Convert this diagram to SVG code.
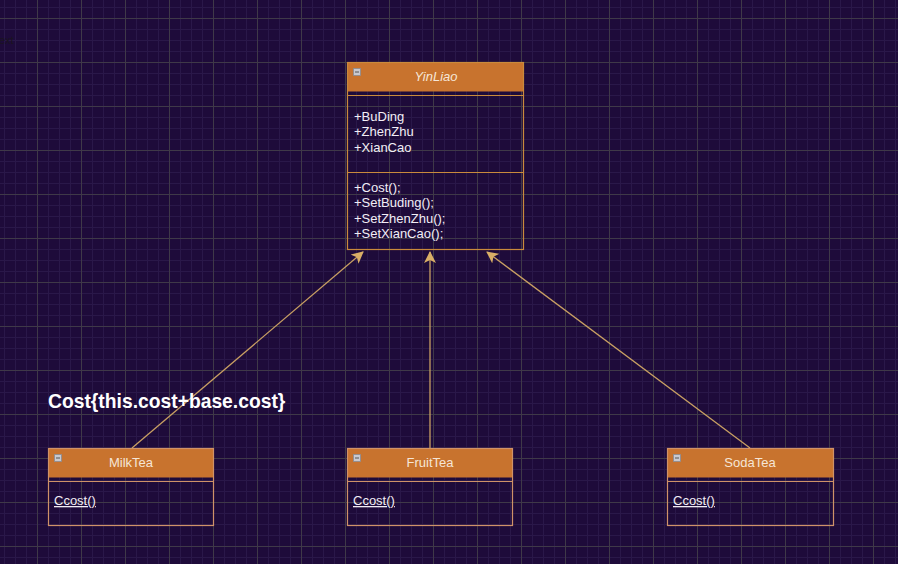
<svg xmlns="http://www.w3.org/2000/svg" width="898" height="564" viewBox="0 0 898 564">
  <defs>
    <pattern id="minor" x="4" y="7" width="11" height="11" patternUnits="userSpaceOnUse">
      <path d="M0 0.5H11M0.5 0V11" fill="none" stroke="#2a1849" stroke-width="1" shape-rendering="crispEdges"/>
    </pattern>
    <pattern id="major" x="37" y="18" width="44" height="44" patternUnits="userSpaceOnUse">
      <path d="M0 0.5H44M0.5 0V44" fill="none" stroke="#3f3948" stroke-width="1" shape-rendering="crispEdges"/>
    </pattern>
    <marker id="tip" viewBox="0 0 12 12" refX="11" refY="6" markerWidth="12" markerHeight="12" markerUnits="userSpaceOnUse" orient="auto">
      <path d="M0 0L12 6L0 12L3 6Z" fill="#d9ae66"/>
    </marker>
    <style>
      .hdr { fill: #c8732e; }
      .box { fill: none; stroke: #cf9268; stroke-width: 1.2; }
      .sep { stroke: #cf9268; stroke-width: 1.2; }
      #YinLiao .box, #YinLiao .sep { stroke: #c98a3c; }
      .title { font-family: "Liberation Sans", Arial, sans-serif; font-size: 13px; fill: #f6e6d6; text-anchor: middle; }
      .mem { font-family: "Liberation Sans", Arial, sans-serif; font-size: 13px; fill: #f2eef6; }
      .ul { text-decoration: underline; }
      .ico { fill: #c9c9cf; stroke: #8a8a90; stroke-width: 0.8; }
      .edge { fill: none; stroke: #c9a063; stroke-width: 1.3; marker-end: url(#tip); }
    </style>
  </defs>

  <!-- canvas with grid -->
  <rect width="898" height="564" fill="#1e0b3a"/>
  <rect width="898" height="564" fill="url(#minor)"/>
  <rect width="898" height="564" fill="url(#major)"/>

  <text x="-1" y="44" font-family="Liberation Sans, Arial, sans-serif" font-size="11" fill="#1a1420">ext</text>

  <!-- inheritance arrows -->
  <g id="connectors">
    <path class="edge" d="M132 448L363 252"/>
    <path class="edge" d="M430 448V252"/>
    <path class="edge" d="M750 448L487 252"/>
  </g>

  <g id="YinLiao">
    <rect class="hdr" x="347.5" y="62.5" width="176" height="29"/>
    <rect class="box" x="347.5" y="62.5" width="176" height="187"/>
    <line class="sep" x1="347.5" y1="95.5" x2="523.5" y2="95.5"/>
    <line class="sep" x1="347.5" y1="172.5" x2="523.5" y2="172.5"/>
    <rect class="ico" x="353.5" y="68.5" width="7" height="7"/>
    <line x1="355" y1="72" x2="359" y2="72" stroke="#555" stroke-width="1"/>
    <text class="title" x="436" y="81" font-style="italic">YinLiao</text>
    <text class="mem" x="354" y="121">+BuDing</text>
    <text class="mem" x="354" y="136">+ZhenZhu</text>
    <text class="mem" x="354" y="152">+XianCao</text>
    <text class="mem" x="354" y="192">+Cost();</text>
    <text class="mem" x="354" y="207">+SetBuding();</text>
    <text class="mem" x="354" y="223">+SetZhenZhu();</text>
    <text class="mem" x="354" y="238">+SetXianCao();</text>
  </g>

  <g id="MilkTea">
    <rect class="hdr" x="48.5" y="448.5" width="165" height="29"/>
    <rect class="box" x="48.5" y="448.5" width="165" height="77"/>
    <line class="sep" x1="48.5" y1="481.5" x2="213.5" y2="481.5"/>
    <rect class="ico" x="54.5" y="454.5" width="7" height="7"/>
    <line x1="56" y1="458" x2="60" y2="458" stroke="#555" stroke-width="1"/>
    <text class="title" x="131" y="467">MilkTea</text>
    <text class="mem ul" x="54" y="505">Ccost()</text>
  </g>

  <g id="FruitTea">
    <rect class="hdr" x="347.5" y="448.5" width="165" height="29"/>
    <rect class="box" x="347.5" y="448.5" width="165" height="77"/>
    <line class="sep" x1="347.5" y1="481.5" x2="512.5" y2="481.5"/>
    <rect class="ico" x="353.5" y="454.5" width="7" height="7"/>
    <line x1="355" y1="458" x2="359" y2="458" stroke="#555" stroke-width="1"/>
    <text class="title" x="430" y="467">FruitTea</text>
    <text class="mem ul" x="353" y="505">Ccost()</text>
  </g>

  <g id="SodaTea">
    <rect class="hdr" x="667.5" y="448.5" width="166" height="29"/>
    <rect class="box" x="667.5" y="448.5" width="166" height="77"/>
    <line class="sep" x1="667.5" y1="481.5" x2="833.5" y2="481.5"/>
    <rect class="ico" x="673.5" y="454.5" width="7" height="7"/>
    <line x1="675" y1="458" x2="679" y2="458" stroke="#555" stroke-width="1"/>
    <text class="title" x="750" y="467">SodaTea</text>
    <text class="mem ul" x="673" y="505">Ccost()</text>
  </g>

  <g id="note">
    <text x="48" y="408" font-family="Liberation Sans, Arial, sans-serif" font-size="19.3" font-weight="bold" fill="#ffffff">Cost{this.cost+base.cost}</text>
  </g>
</svg>
